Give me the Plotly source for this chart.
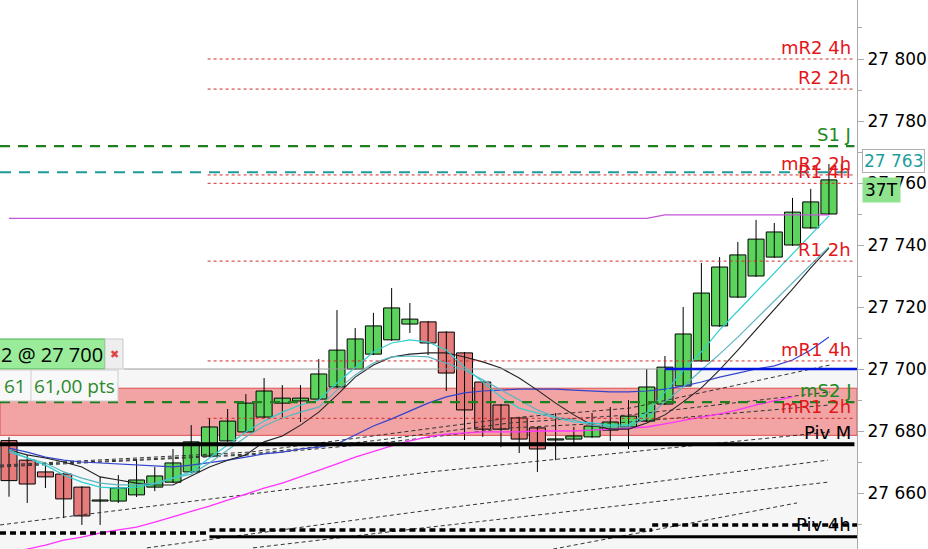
import plotly.graph_objects as go

# ---------------- data ----------------
candle_idx = list(range(46))
open_ = [27676.9, 27670.6, 27666.8, 27666.1, 27661.9, 27657.4, 27657.4, 27659.4, 27661.9, 27663.5,
         27666.8, 27671.9, 27676.8, 27679.7, 27684.5, 27689.0, 27689.7, 27690.3, 27694.2, 27700.0,
         27704.8, 27709.4, 27714.5, 27715.2, 27711.9, 27705.2, 27695.8, 27688.4, 27684.2, 27681.0,
         27677.1, 27677.4, 27678.1, 27680.3, 27681.3, 27683.2, 27688.7, 27694.5, 27702.6, 27713.9,
         27723.2, 27730.0, 27736.1, 27740.0, 27745.5, 27750.0]
high = [27678.0, 27672.3, 27669.7, 27666.5, 27662.2, 27665.2, 27665.8, 27671.0, 27668.4, 27674.2,
        27681.9, 27684.2, 27687.1, 27691.9, 27697.1, 27694.8, 27694.8, 27703.2, 27719.0, 27713.2,
        27718.1, 27726.1, 27721.3, 27715.5, 27712.2, 27705.5, 27696.1, 27688.7, 27684.5, 27681.3,
        27685.8, 27681.3, 27685.8, 27687.7, 27690.0, 27700.0, 27704.2, 27720.0, 27734.2, 27736.1,
        27741.0, 27748.1, 27747.1, 27755.2, 27758.1, 27766.1]
low = [27658.8, 27656.8, 27661.6, 27651.9, 27649.7, 27649.7, 27656.8, 27658.7, 27660.6, 27663.2,
       27666.5, 27671.6, 27676.5, 27679.4, 27684.2, 27684.5, 27682.9, 27690.0, 27693.9, 27699.7,
       27704.5, 27709.1, 27711.6, 27704.5, 27692.9, 27677.1, 27678.1, 27674.8, 27672.9, 27666.8,
       27670.6, 27675.2, 27677.8, 27676.8, 27674.2, 27682.9, 27688.4, 27694.2, 27702.3, 27713.6,
       27722.9, 27729.7, 27735.8, 27739.7, 27745.2, 27749.7]
close = [27664.0, 27662.9, 27665.2, 27658.1, 27652.6, 27657.6, 27661.6, 27664.2, 27665.5, 27669.7,
         27676.5, 27681.3, 27683.2, 27689.0, 27692.9, 27690.6, 27690.6, 27698.4, 27706.1, 27709.7,
         27713.9, 27719.7, 27716.1, 27708.4, 27698.7, 27686.8, 27680.6, 27680.6, 27677.4, 27674.2,
         27677.2, 27678.4, 27681.6, 27682.9, 27684.8, 27694.2, 27700.6, 27711.3, 27724.5, 27732.9,
         27736.8, 27741.9, 27744.2, 27750.6, 27753.9, 27761.0]

ma_black = [27673.9, 27672.3, 27671.3, 27670.0, 27668.4, 27665.2, 27664.2, 27663.2, 27662.6, 27662.6,
            27665.5, 27668.4, 27670.6, 27672.3, 27676.5, 27678.4, 27681.9, 27686.1, 27691.6, 27697.4,
            27701.3, 27703.9, 27704.8, 27705.2, 27705.2, 27703.9, 27702.3, 27700.3, 27697.1, 27693.2,
            27689.0, 27685.2, 27681.9, 27680.6, 27680.6, 27682.6, 27685.2, 27689.4, 27693.9, 27699.7,
            27706.1, 27712.6, 27719.4, 27725.8, 27732.6, 27739.0]
ma_cyan1 = [27673.9, 27671.3, 27669.0, 27665.8, 27663.5, 27661.9, 27661.6, 27661.9, 27662.9, 27664.8,
            27666.8, 27671.3, 27675.5, 27679.7, 27683.2, 27686.1, 27688.4, 27690.0, 27695.5, 27700.6,
            27705.5, 27708.4, 27709.4, 27708.7, 27706.1, 27700.6, 27695.8, 27691.0, 27687.4, 27685.8,
            27684.2, 27682.9, 27682.6, 27681.9, 27681.9, 27685.8, 27692.6, 27699.4, 27705.5, 27712.6,
            27718.7, 27724.8, 27731.0, 27737.1, 27743.2, 27749.4]
ma_cyan2 = [27673.2, 27671.3, 27669.7, 27666.8, 27664.8, 27663.2, 27662.6, 27662.6, 27663.2, 27664.8,
            27666.1, 27669.7, 27673.9, 27678.1, 27681.6, 27684.2, 27686.1, 27687.7, 27693.2, 27698.1,
            27701.9, 27703.9, 27704.2, 27703.9, 27701.9, 27699.7, 27696.5, 27693.2, 27690.0, 27686.8,
            27684.5, 27683.5, 27681.9, 27681.3, 27681.3, 27684.2, 27689.4, 27694.2, 27699.7, 27704.8,
            27710.3, 27716.1, 27721.9, 27727.7, 27733.5, 27739.4]
ma_blue = [27674.5, 27673.2, 27671.6, 27670.6, 27670.0, 27669.7, 27669.4, 27669.0, 27668.7, 27668.4,
           27669.0, 27669.7, 27670.6, 27671.6, 27672.6, 27673.2, 27674.2, 27674.8, 27675.8, 27678.7,
           27681.6, 27683.9, 27686.5, 27689.0, 27691.0, 27692.3, 27692.9, 27693.2, 27693.5, 27693.5,
           27693.5, 27693.2, 27692.9, 27692.6, 27692.6, 27692.9, 27693.5, 27694.5, 27695.8, 27697.4,
           27698.7, 27700.0, 27701.0, 27702.9, 27706.1, 27710.3]
ma_magenta = [27641.0, 27641.9, 27643.2, 27644.8, 27645.8, 27647.1, 27648.1, 27649.0, 27650.6, 27652.3,
              27653.9, 27655.8, 27657.7, 27659.7, 27661.6, 27663.2, 27665.2, 27667.4, 27669.4, 27671.6,
              27673.5, 27675.2, 27676.8, 27678.1, 27679.0, 27679.4, 27679.7, 27679.7, 27679.7, 27680.0,
              27680.0, 27680.0, 27680.3, 27680.6, 27681.0, 27681.3, 27682.3, 27683.5, 27684.5, 27685.5,
              27686.8, 27688.4, 27689.7, 27691.0]
vwap_purple = [27748.6] * 36 + [27749.7] * 10

# gray dashed channel lines: (x in candle index, y in price)
gray_x = [
    [-0.49, 7.19, 13.23, 20.36, 27.5, 34.08, 45.06],
    [-0.49, 13.23, 20.36, 27.5, 34.08, 45.06],
    [-0.49, 13.23, 20.36, 27.5, 34.08, 45.06],
    [-0.49, 23.11, 45.06],
    [7.57, 23.11, 44.95],
    [13.39, 23.11, 44.95],
    [29.86, 43.25],
]
gray_y = [
    [27669.0, 27671.3, 27673.2, 27678.7, 27684.2, 27687.4, 27701.3],
    [27668.7, 27672.6, 27677.1, 27682.6, 27685.2, 27692.6],
    [27668.4, 27672.3, 27676.1, 27681.0, 27682.9, 27688.4],
    [27649.7, 27666.8, 27679.7],
    [27642.3, 27654.5, 27670.6],
    [27642.3, 27649.0, 27663.5],
    [27641.9, 27656.8],
]

level_names = ["mR2 4h", "R2 2h", "S1 J", "mR2 2h", "R1 4h", "R1 2h", "mR1 4h", "mS2 J", "mR1 2h", "Piv M"]
level_prices = [27800.0, 27790.3, 27771.9, 27762.6, 27759.9, 27734.8, 27702.6, 27689.3, 27684.1, 27675.7]

piv4h_start = [-0.494, 11.0, 35.3]
piv4h_end = [11.0, 35.3, 46.54]
piv4h_prices = [27647.1, 27648.1, 27649.7]

current_price = 27763.5
entry_price = 27700
entry_start_idx = 36
band_low, band_high = 27678.6, 27693.8
bottom_line_price = 27645.9

tick_vals = [27660, 27680, 27700, 27720, 27740, 27760, 27780, 27800]
tick_text = ["27 660", "27 680", "27 700", "27 720", "27 740", "27 760", "27 780", "27 800"]
minor_vals = [27650, 27670, 27690, 27710, 27730, 27750, 27770, 27790, 27810]

# ---------------- styles ----------------
X0, X1 = -0.494, 46.54
RED_START = 10.9
RED = "#e3161b"
GREEN = "#1e8a1e"
style = {
    "red": dict(color="#d42a2a", width=1, dash="3px,3px"),
    "green": dict(color="#1f7f1f", width=2.2, dash="10px,8px"),
    "piv": dict(color="#000000", width=4),
}
level_style = {"mR2 4h": "red", "R2 2h": "red", "S1 J": "green", "mR2 2h": "red", "R1 4h": "red",
               "R1 2h": "red", "mR1 4h": "red", "mS2 J": "green", "mR1 2h": "red", "Piv M": "piv"}
label_color = {"red": RED, "green": GREEN, "piv": "#000000"}

FONT = "DejaVu Sans"
W, H, PW = 928, 549, 857


def px(x):
    return x / PW


def py(y):
    return 1 - y / H


fig = go.Figure()

# wicks
wick_x, wick_y = [], []
for i, h, l in zip(candle_idx, high, low):
    wick_x += [i, i, None]
    wick_y += [l, h, None]
fig.add_trace(go.Scatter(x=wick_x, y=wick_y, mode="lines",
                         line=dict(color="#000000", width=1), hoverinfo="skip"))

# bodies
body_base = [min(o, c) for o, c in zip(open_, close)]
body_len = [max(abs(c - o), 0.35) for o, c in zip(open_, close)]
body_col = ["#5cd35c" if c >= o else "#e57b7b" for o, c in zip(open_, close)]
fig.add_trace(go.Bar(x=candle_idx, y=body_len, base=body_base, width=0.88,
                     marker=dict(color=body_col, line=dict(color="#000000", width=1)),
                     hoverinfo="skip"))

for gx, gy in zip(gray_x, gray_y):
    fig.add_trace(go.Scatter(x=gx, y=gy, mode="lines",
                             line=dict(color="#333333", width=1, dash="4px,3px"), hoverinfo="skip"))

fig.add_trace(go.Scatter(x=candle_idx[:len(ma_magenta)], y=ma_magenta, mode="lines",
                         line=dict(color="#ff33ff", width=1.3), hoverinfo="skip"))
fig.add_trace(go.Scatter(x=candle_idx, y=ma_blue, mode="lines",
                         line=dict(color="#3344cc", width=1.2), hoverinfo="skip"))
fig.add_trace(go.Scatter(x=candle_idx, y=ma_black, mode="lines",
                         line=dict(color="#222222", width=1.1), hoverinfo="skip"))
fig.add_trace(go.Scatter(x=candle_idx, y=ma_cyan2, mode="lines",
                         line=dict(color="#5bb5c0", width=1.2), hoverinfo="skip"))
fig.add_trace(go.Scatter(x=candle_idx, y=ma_cyan1, mode="lines",
                         line=dict(color="#2fd0d0", width=1.2), hoverinfo="skip"))
fig.add_trace(go.Scatter(x=candle_idx, y=vwap_purple, mode="lines",
                         line=dict(color="#c455d8", width=1.2), hoverinfo="skip"))

# entry line (grey) and position line (blue)
fig.add_trace(go.Scatter(x=[6.3, X1], y=[entry_price, entry_price], mode="lines",
                         line=dict(color="#9a9a9a", width=1), hoverinfo="skip"))
fig.add_trace(go.Scatter(x=[entry_start_idx, X1], y=[entry_price, entry_price], mode="lines",
                         line=dict(color="#0014e0", width=2.5), hoverinfo="skip"))

# current price teal line
fig.add_trace(go.Scatter(x=[X0, 46.4], y=[current_price, current_price], mode="lines",
                         line=dict(color="#1e9a9a", width=2, dash="11px,8px"), hoverinfo="skip"))

annotations = []
for name, price in zip(level_names, level_prices):
    k = level_style[name]
    xs = RED_START if k == "red" else X0
    fig.add_trace(go.Scatter(x=[xs, 46.4], y=[price, price], mode="lines",
                             line=style[k], hoverinfo="skip"))
    annotations.append(dict(x=px(853), xref="paper", y=price, yref="y", xanchor="right",
                            yanchor="bottom", yshift=-1, text=name, showarrow=False,
                            font=dict(family=FONT, size=18, color=label_color[k])))

for xs, xe, p in zip(piv4h_start, piv4h_end, piv4h_prices):
    fig.add_trace(go.Scatter(x=[xs, xe], y=[p, p], mode="lines",
                             line=dict(color="#000000", width=3.5, dash="6px,4px"), hoverinfo="skip"))
fig.add_trace(go.Scatter(x=[11.0, X1], y=[bottom_line_price, bottom_line_price], mode="lines",
                         line=dict(color="#000000", width=3), hoverinfo="skip"))
annotations.append(dict(x=px(853), xref="paper", y=piv4h_prices[-1], yref="y", xanchor="right",
                        yanchor="middle", text="Piv 4h", showarrow=False,
                        font=dict(family=FONT, size=18, color="#000000")))

shapes = [
    dict(type="rect", xref="paper", yref="y", x0=0, x1=1, y0=27600, y1=entry_price,
         fillcolor="#f6f6f6", line=dict(width=0), layer="below"),
    dict(type="rect", xref="paper", yref="y", x0=0, x1=1, y0=band_low, y1=band_high,
         fillcolor="#f2a3a3", line=dict(color="#e05050", width=1), layer="below"),
    # order box
    dict(type="rect", xref="paper", yref="paper", x0=px(-2), x1=px(105), y0=py(369), y1=py(339),
         fillcolor="#9aec9a", line=dict(color="#4fb04f", width=1)),
    dict(type="rect", xref="paper", yref="paper", x0=px(105), x1=px(123), y0=py(369), y1=py(339),
         fillcolor="#eeeeee", line=dict(color="#c8c8c8", width=1)),
    dict(type="rect", xref="paper", yref="paper", x0=px(-2), x1=px(118), y0=py(401), y1=py(370),
         fillcolor="#f8f8f8", line=dict(color="#cccccc", width=1)),
    dict(type="line", xref="paper", yref="paper", x0=px(31), x1=px(31), y0=py(401), y1=py(370),
         line=dict(color="#cccccc", width=1)),
]

annotations += [
    dict(x=px(52), y=py(354), xref="paper", yref="paper", xanchor="center", yanchor="middle",
         text="2 @ 27 700", showarrow=False,
         font=dict(family="Open Sans", size=20, color="#000000")),
    dict(x=px(114), y=py(354), xref="paper", yref="paper", xanchor="center", yanchor="middle",
         text="✖", showarrow=False,
         font=dict(family=FONT, size=11, color="#e04545")),
    dict(x=px(15), y=py(386), xref="paper", yref="paper", xanchor="center", yanchor="middle",
         text="61", showarrow=False,
         font=dict(family="Open Sans", size=19, color="#2a8a2a")),
    dict(x=px(74), y=py(386), xref="paper", yref="paper", xanchor="center", yanchor="middle",
         text="61,00 pts", showarrow=False,
         font=dict(family="Open Sans", size=19, color="#2a8a2a")),
    dict(x=px(862), y=py(161), xref="paper", yref="paper", xanchor="left", yanchor="middle",
         text="27 763", showarrow=False, bgcolor="#ffffff", bordercolor="#b0b0b0",
         borderwidth=1, borderpad=1,
         font=dict(family=FONT, size=17, color="#1e9e9e")),
    dict(x=px(862), y=py(190), xref="paper", yref="paper", xanchor="left", yanchor="middle",
         text="37T", showarrow=False, bgcolor="#8fe38f", borderpad=2,
         font=dict(family=FONT, size=17, color="#000000")),
]

fig.update_layout(
    width=W, height=H, margin=dict(l=0, r=W - PW, t=0, b=0, autoexpand=False),
    paper_bgcolor="#ffffff", plot_bgcolor="#ffffff", showlegend=False, barmode="overlay",
    shapes=shapes, annotations=annotations,
    xaxis=dict(visible=False, range=[X0, X1], fixedrange=True),
    yaxis=dict(side="right", range=[27641.94, 27819.03], tickmode="array", tickvals=tick_vals,
               ticktext=tick_text, ticks="outside", ticklen=6, tickcolor="#aaaaaa",
               showline=True, linecolor="#aaaaaa", linewidth=1, showgrid=False, zeroline=False,
               automargin=False,
               tickfont=dict(family=FONT, size=17, color="#000000"),
               minor=dict(tickmode="array", tickvals=minor_vals,
                          ticks="outside", ticklen=4, tickcolor="#aaaaaa")),
)

fig.write_html("out.html", config={"displayModeBar": False},
               post_script="document.body.style.margin='0';document.body.style.overflow='hidden';")
